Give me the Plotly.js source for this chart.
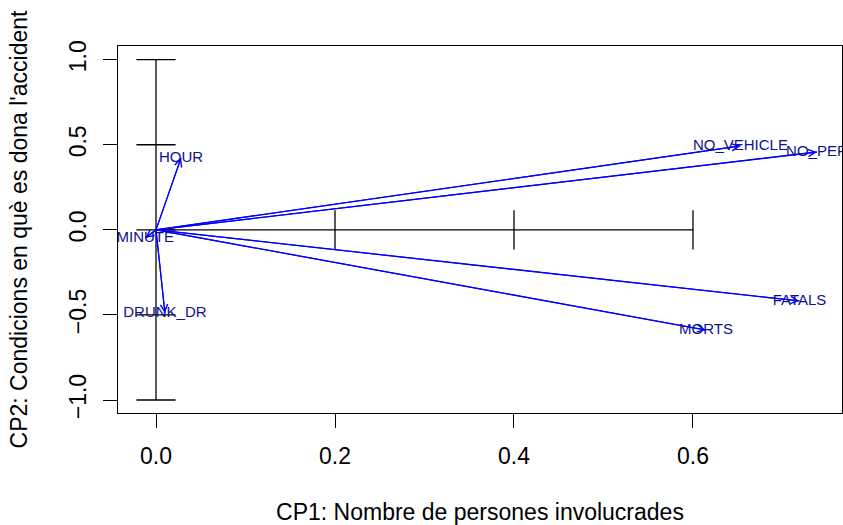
<!DOCTYPE html>
<html>
<head>
<meta charset="utf-8">
<script src="https://cdn.plot.ly/plotly-3.0.1.min.js"></script>
<style>html,body{margin:0;padding:0;background:#fff;}#chart{width:843px;height:525px;}</style>
</head>
<body>
<div id="chart"></div>
<script>
// Variable loadings (CP1, CP2)
const variables = ["HOUR", "MINUTE", "DRUNK_DR", "NO_VEHICLE", "NO_PER", "FATALS", "MORTS"];
const cp1 = [0.028, -0.012, 0.010, 0.653, 0.7385, 0.719, 0.6145];
const cp2 = [0.423, -0.048, -0.49, 0.493, 0.4575, -0.418, -0.589];

// Axis through origin tick positions
const xAxisTicks = [0.2, 0.4, 0.6];
const yAxisTicks = [-1, -0.5, 0, 0.5, 1];

// Tick labels
const xTickVals = [0, 0.2, 0.4, 0.6];
const xTickText = ["0.0", "0.2", "0.4", "0.6"];
const yTickVals = [-1, -0.5, 0, 0.5, 1];
const yTickText = ["\u22121.0", "\u22120.5", "0.0", "0.5", "1.0"];

const FONT = "Liberation Sans, Arial, Helvetica, sans-serif";
const ARROW = "#0000FF";
const LABEL = "#10108A";

const traces = [];

// inner axes through the origin
traces.push({
  x: [0, 0], y: [yAxisTicks[0], yAxisTicks[yAxisTicks.length - 1]],
  mode: "lines", line: {color: "black", width: 1.3}, hoverinfo: "skip", showlegend: false
});
traces.push({
  x: [0, xAxisTicks[xAxisTicks.length - 1]], y: [0, 0],
  mode: "lines", line: {color: "black", width: 1.3}, hoverinfo: "skip", showlegend: false
});
traces.push({
  x: yAxisTicks.map(() => 0), y: yAxisTicks,
  mode: "markers", marker: {symbol: "line-ew", size: 28, line: {color: "black", width: 1.3}},
  hoverinfo: "skip", showlegend: false
});
traces.push({
  x: xAxisTicks, y: xAxisTicks.map(() => 0),
  mode: "markers", marker: {symbol: "line-ns", size: 28, line: {color: "black", width: 1.3}},
  hoverinfo: "skip", showlegend: false
});

// arrow shafts
variables.forEach((v, i) => {
  traces.push({
    x: [0, cp1[i]], y: [0, cp2[i]], mode: "lines",
    line: {color: ARROW, width: 1.3}, hoverinfo: "skip", showlegend: false, name: v
  });
});

// labels
traces.push({
  x: cp1, y: cp2, text: variables, mode: "text",
  textposition: "middle center",
  textfont: {family: FONT, size: 15, color: LABEL},
  hoverinfo: "text", showlegend: false, cliponaxis: true
});

// arrow heads
const annotations = variables.map((v, i) => ({
  x: cp1[i], y: cp2[i], xref: "x", yref: "y",
  ax: 0, ay: 0, axref: "x", ayref: "y",
  text: "", showarrow: true, arrowhead: 5, arrowsize: 1.3, arrowwidth: 1.1,
  arrowcolor: ARROW, standoff: 0, startstandoff: 0
}));

const layout = {
  width: 843, height: 525,
  margin: {l: 118, r: 1, t: 46, b: 112},
  paper_bgcolor: "white", plot_bgcolor: "white",
  showlegend: false,
  font: {family: FONT, color: "black", size: 23},
  xaxis: {
    range: [-0.04246, 0.7665], autorange: false,
    tickmode: "array", tickvals: xTickVals, ticktext: xTickText,
    ticks: "outside", ticklen: 14, tickwidth: 1, tickcolor: "black",
    showline: true, mirror: true, linecolor: "black", linewidth: 1,
    showgrid: false, zeroline: false,
    tickfont: {family: FONT, size: 23, color: "black"},
    ticklabelstandoff: 8,
    title: {text: "CP1: Nombre de persones involucrades", font: {family: FONT, size: 23, color: "black"}, standoff: 36}
  },
  yaxis: {
    range: [-1.0764, 1.0805], autorange: false,
    tickmode: "array", tickvals: yTickVals, ticktext: yTickText,
    tickangle: -90,
    ticks: "outside", ticklen: 14, tickwidth: 1, tickcolor: "black",
    showline: true, mirror: true, linecolor: "black", linewidth: 1,
    showgrid: false, zeroline: false,
    tickfont: {family: FONT, size: 23, color: "black"},
    ticklabelstandoff: 8,
    title: {text: "CP2: Condicions en què es dona l'accident", font: {family: FONT, size: 23, color: "black"}, standoff: 30}
  },
  annotations: annotations
};

Plotly.newPlot("chart", traces, layout, {staticPlot: true, displayModeBar: false});
</script>
</body>
</html>
